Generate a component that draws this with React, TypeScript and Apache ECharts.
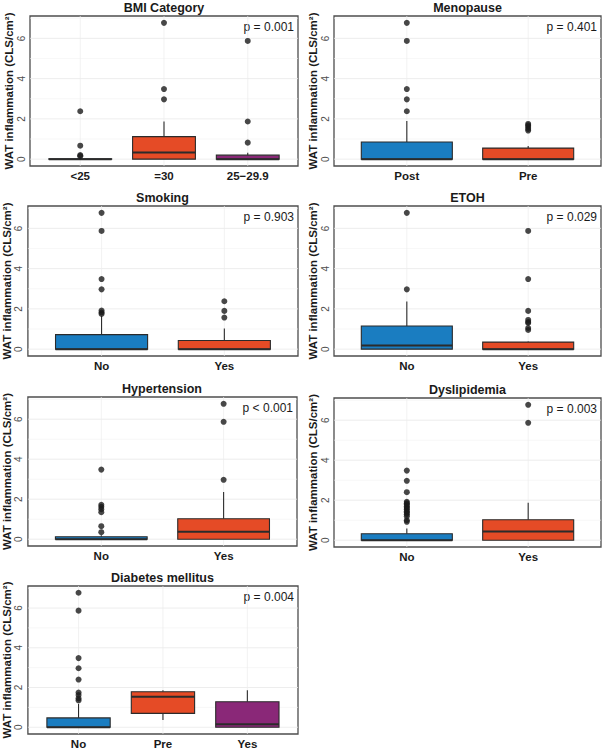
import React, { useEffect, useRef } from 'react';
import * as echarts from 'echarts';

const yAxisTitle = 'WAT inflammation (CLS/cm²)';
const yTickValues = [0, 2, 4, 6];
const gridMajorValues = [0, 2, 4, 6];
const gridMinorValues = [1, 3, 5, 7];
const yMin = -0.34;
const yMax = 7.11;

const panelTitles = ['BMI Category', 'Menopause', 'Smoking', 'ETOH', 'Hypertension', 'Dyslipidemia', 'Diabetes mellitus'];
const pValues = ['p = 0.001', 'p = 0.401', 'p = 0.903', 'p = 0.029', 'p < 0.001', 'p = 0.003', 'p = 0.004'];

// box stats: [lower whisker, Q1, median, Q3, upper whisker]
const bmiCategories = ['<25', '=30', '25−29.9'];
const bmiBoxes = [[0, 0, 0, 0.02, 0.04], [0, 0, 0.33, 1.12, 1.87], [0, 0, 0, 0.2, 0.32]];
const bmiOutliers = [[2.38, 0.67, 0.2, 0.15], [6.77, 3.48, 2.97], [5.87, 1.87, 0.82]];

const menoCategories = ['Post', 'Pre'];
const menoBoxes = [[0, 0, 0, 0.85, 1.9], [0, 0, 0, 0.55, 0.65]];
const menoOutliers = [[6.77, 5.87, 3.48, 2.97, 2.38], [1.75, 1.68, 1.6, 1.5, 1.42]];

const smokingCategories = ['No', 'Yes'];
const smokingBoxes = [[0, 0, 0, 0.72, 1.65], [0, 0, 0, 0.43, 1.02]];
const smokingOutliers = [[6.77, 5.87, 3.48, 2.97, 1.92, 1.82, 1.75], [2.38, 1.9, 1.57]];

const etohCategories = ['No', 'Yes'];
const etohBoxes = [[0, 0, 0.18, 1.15, 2.37], [0, 0, 0, 0.35, 0.38]];
const etohOutliers = [[6.77, 2.97], [5.87, 3.48, 1.9, 1.45, 1.35, 1.3, 1.05, 0.95]];

const htnCategories = ['No', 'Yes'];
const htnBoxes = [[0, 0, 0, 0.12, 0.2], [0, 0, 0.37, 1.02, 2.36]];
const htnOutliers = [[3.48, 1.72, 1.62, 1.5, 1.35, 0.65, 0.35], [6.77, 5.87, 2.97]];

const dysCategories = ['No', 'Yes'];
const dysBoxes = [[0, 0, 0, 0.32, 0.58], [0, 0, 0.43, 1.02, 1.87]];
const dysOutliers = [[3.48, 2.97, 2.4, 1.92, 1.85, 1.78, 1.7, 1.62, 1.55, 1.45, 1.38, 1.3, 1.2, 1.0, 0.92], [6.77, 5.87]];

const dmCategories = ['No', 'Pre', 'Yes'];
const dmBoxes = [[0, 0, 0, 0.47, 1.17], [0.36, 0.7, 1.53, 1.79, 1.86], [0, 0, 0.15, 1.28, 1.86]];
const dmOutliers = [[6.77, 5.87, 3.48, 2.97, 2.4, 1.75, 1.62, 1.45, 1.35], [], []];

const BLUE = '#1A7DC1';
const RED = '#E54B26';
const PURPLE = '#8A2878';
const FONT = '"Liberation Sans", Arial, Helvetica, sans-serif';

const panels = [
  { cats: bmiCategories, boxes: bmiBoxes, outliers: bmiOutliers, colors: [BLUE, RED, PURPLE], layout: { left: 30, top: 16, width: 268, height: 150, nameGap: 11 } },
  { cats: menoCategories, boxes: menoBoxes, outliers: menoOutliers, colors: [BLUE, RED], layout: { left: 334, top: 16, width: 267, height: 150, nameGap: 9 } },
  { cats: smokingCategories, boxes: smokingBoxes, outliers: smokingOutliers, colors: [BLUE, RED], layout: { left: 27, top: 206, width: 271, height: 150, nameGap: 8.5 } },
  { cats: etohCategories, boxes: etohBoxes, outliers: etohOutliers, colors: [BLUE, RED], layout: { left: 334, top: 206, width: 267, height: 150, nameGap: 9 } },
  { cats: htnCategories, boxes: htnBoxes, outliers: htnOutliers, colors: [BLUE, RED], layout: { left: 27, top: 397, width: 270, height: 149, nameGap: 8.5 } },
  { cats: dysCategories, boxes: dysBoxes, outliers: dysOutliers, colors: [BLUE, RED], layout: { left: 334, top: 398, width: 267, height: 149, nameGap: 9 } },
  { cats: dmCategories, boxes: dmBoxes, outliers: dmOutliers, colors: [BLUE, RED, PURPLE], layout: { left: 27, top: 586, width: 271, height: 150, nameGap: 8.5 } },
];

function buildOption() {
  const grid: any[] = [];
  const xAxis: any[] = [];
  const yAxis: any[] = [];
  const series: any[] = [];
  const graphic: any[] = [];

  panels.forEach((p, i) => {
    const L = p.layout;
    const n = p.cats.length;
    grid.push({
      left: L.left, top: L.top, width: L.width, height: L.height,
      show: true, borderColor: '#4d4d4d', borderWidth: 1.3, backgroundColor: 'rgba(0,0,0,0)',
      containLabel: false,
    });
    xAxis.push({
      type: 'value', gridIndex: i, min: 0.4, max: n + 0.6,
      axisLine: { show: false }, axisTick: { show: false }, splitLine: { show: false },
      axisLabel: {
        customValues: p.cats.map((_, k) => k + 1),
        formatter: (v: number) => p.cats[Math.round(v) - 1] ?? '',
        fontWeight: 'bold', fontSize: 11.5, color: '#1a1a1a', margin: 4, fontFamily: FONT,
      },
    });
    yAxis.push({
      type: 'value', gridIndex: i, min: yMin, max: yMax,
      axisLine: { show: false }, axisTick: { show: false }, splitLine: { show: false },
      axisLabel: {
        customValues: yTickValues, rotate: 90, fontSize: 10, color: '#4d4d4d', margin: 4, fontFamily: FONT,
        formatter: (v: number) => String(v),
      },
      name: yAxisTitle, nameLocation: 'middle', nameRotate: 90, nameGap: L.nameGap,
      nameTextStyle: { fontWeight: 'bold', fontSize: 11.5, color: '#1a1a1a', fontFamily: FONT },
    });

    const gridData: number[][] = [];
    gridMajorValues.forEach((v) => gridData.push([0, v]));
    gridMinorValues.forEach((v) => gridData.push([1, v]));
    p.cats.forEach((_, k) => gridData.push([2, k + 1]));
    series.push({
      type: 'custom', xAxisIndex: i, yAxisIndex: i, silent: true, z: 1,
      data: gridData,
      renderItem: (params: any, api: any) => {
        const cs = params.coordSys;
        const kind = api.value(0);
        const v = api.value(1);
        if (kind === 2) {
          const px = api.coord([v, 0])[0];
          return { type: 'line', shape: { x1: px, y1: cs.y, x2: px, y2: cs.y + cs.height }, style: { stroke: '#ececec', lineWidth: 0.7 } };
        }
        const py = api.coord([1, v])[1];
        return {
          type: 'line', shape: { x1: cs.x, y1: py, x2: cs.x + cs.width, y2: py },
          style: { stroke: kind === 0 ? '#e8e8e8' : '#f2f2f2', lineWidth: kind === 0 ? 0.8 : 0.6 },
        };
      },
    });

    const boxData = p.boxes.map((b, k) => [k + 1, ...b]);
    series.push({
      type: 'custom', xAxisIndex: i, yAxisIndex: i, z: 3, silent: true,
      data: boxData,
      encode: { x: 0, y: [1, 2, 3, 4, 5] },
      renderItem: (params: any, api: any) => {
        const x = api.value(0);
        const lo = api.coord([x, api.value(1)]);
        const q1 = api.coord([x, api.value(2)]);
        const med = api.coord([x, api.value(3)]);
        const q3 = api.coord([x, api.value(4)]);
        const hi = api.coord([x, api.value(5)]);
        const hw = api.size([0.75, 0])[0] / 2;
        const cx = lo[0];
        const color = p.colors[params.dataIndex];
        const stroke = '#2b2b2b';
        return {
          type: 'group',
          children: [
            { type: 'line', shape: { x1: cx, y1: hi[1], x2: cx, y2: q3[1] }, style: { stroke, lineWidth: 1.1 } },
            { type: 'line', shape: { x1: cx, y1: q1[1], x2: cx, y2: lo[1] }, style: { stroke, lineWidth: 1.1 } },
            { type: 'rect', shape: { x: cx - hw, y: q3[1], width: 2 * hw, height: q1[1] - q3[1] }, style: { fill: color, stroke, lineWidth: 1.1 } },
            { type: 'line', shape: { x1: cx - hw, y1: med[1], x2: cx + hw, y2: med[1] }, style: { stroke, lineWidth: 2 } },
          ],
        };
      },
    });

    const outData: number[][] = [];
    p.outliers.forEach((arr, k) => arr.forEach((v) => outData.push([k + 1, v])));
    series.push({
      type: 'scatter', xAxisIndex: i, yAxisIndex: i, z: 5, silent: true,
      symbol: 'circle', symbolSize: 6,
      itemStyle: { color: '#1a1a1a' },
      data: outData,
    });

    graphic.push({
      type: 'text', x: L.left + L.width / 2, y: L.top - 8.5,
      style: { text: panelTitles[i], align: 'center', verticalAlign: 'middle', fontSize: 12.5, fontWeight: 'bold', fontFamily: FONT, fill: '#1a1a1a' },
    });
    graphic.push({
      type: 'text', x: L.left + L.width - 4, y: L.top + 11,
      style: { text: pValues[i], align: 'right', verticalAlign: 'middle', fontSize: 12, fontFamily: FONT, fill: '#1a1a1a' },
    });
  });

  return { animation: false, backgroundColor: '#ffffff', grid, xAxis, yAxis, series, graphic };
}

export default function App() {
  const ref = useRef<HTMLDivElement>(null);
  useEffect(() => {
    if (!ref.current) return;
    const chart = echarts.init(ref.current, undefined, { renderer: 'svg' });
    chart.setOption(buildOption() as any);
    return () => chart.dispose();
  }, []);
  return <div ref={ref} style={{ position: 'absolute', left: 0, top: 0, width: 606, height: 750 }} />;
}
